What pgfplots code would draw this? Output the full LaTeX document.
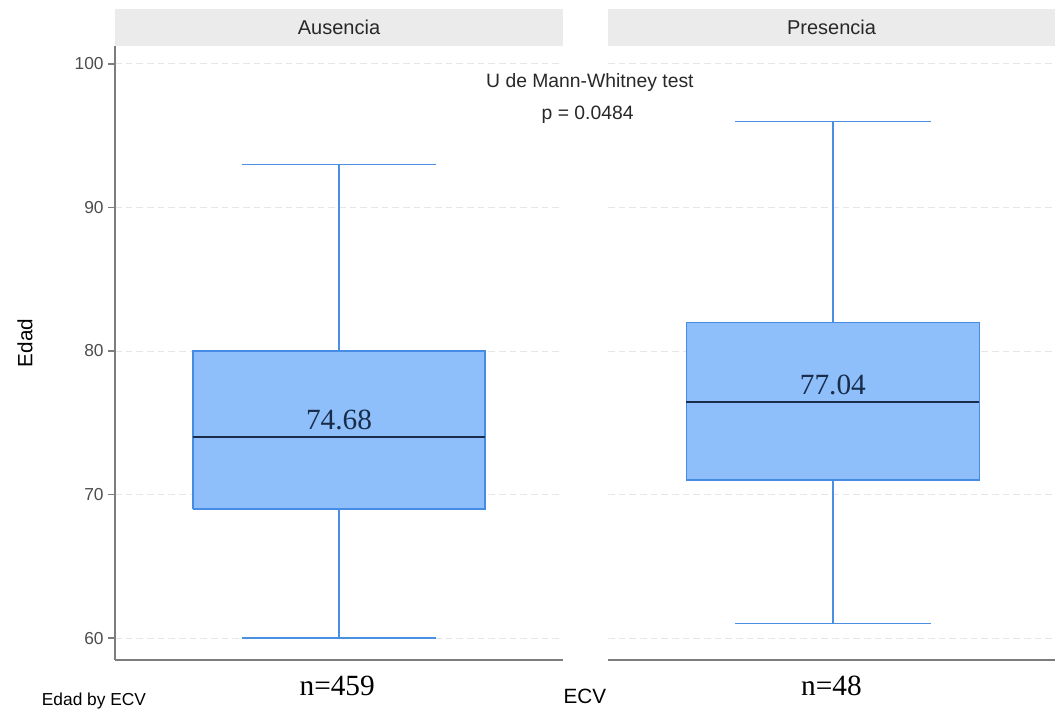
\documentclass[border=0pt]{standalone}
\usepackage{pgfplots}
\pgfplotsset{compat=1.18}
\usepackage{fontspec}
\setmainfont{Liberation Sans}
\newfontfamily\seriffont{Liberation Serif}
\definecolor{boxfill}{RGB}{142,191,250}
\definecolor{boxedge}{RGB}{70,140,230}
\definecolor{whisk}{RGB}{74,144,226}
\definecolor{medc}{RGB}{25,45,75}
\definecolor{stripc}{RGB}{235,235,235}
\definecolor{axc}{RGB}{125,125,125}
\definecolor{tickc}{RGB}{77,77,77}
\definecolor{stript}{RGB}{40,40,40}
\definecolor{gridc}{RGB}{230,230,230}
\pgfplotsset{
  panel/.style={
    scale only axis, height=460.5pt, anchor=south west,
    xmin=0, xmax=1, ymin=58.47, ymax=101.25,
    xtick=\empty, ytick={60,70,80,90,100},
    ymajorgrids, grid style={gridc, dash pattern=on 5pt off 3pt, line width=0.7pt},
    axis x line*=bottom, axis y line*=left,
    axis line style={axc, line width=1.3pt, -},
    tick align=outside, major tick length=5pt,
    ytick style={axc, line width=0.9pt},
    /pgf/number format/assume math mode=true,
    yticklabel style={font=\fontsize{13}{15}\selectfont, text=tickc},
    clip=false,
  },
  boxst/.style={fill=boxfill, draw=boxedge, line width=1.1pt},
  whst/.style={whisk, line width=1.2pt},
  medst/.style={medc, line width=1.3pt},
}
\begin{document}
\begin{tikzpicture}
\path[use as bounding box] (0,0) rectangle (791.25pt,534.75pt);
% left panel: Ausencia  (min 60, Q1 69, median 74, Q3 80, max 93)
\begin{axis}[panel, width=336pt, at={(86.25pt,39.75pt)}]
\fill[stripc] (rel axis cs:0,1) rectangle ([yshift=27.75pt]rel axis cs:1,1);
\node[text=stript, font=\fontsize{15}{18}\selectfont] at ([yshift=13.9pt]rel axis cs:0.5,1) {Ausencia};
\addplot[whst] coordinates {(0.5,60) (0.5,69)};
\addplot[whst] coordinates {(0.5,80) (0.5,93)};
\addplot[whst] coordinates {(0.2825,60) (0.7175,60)};
\addplot[whst] coordinates {(0.2825,93) (0.7175,93)};
\addplot[boxst] coordinates {(0.174,69) (0.826,69) (0.826,80) (0.174,80) (0.174,69)};
\addplot[medst] coordinates {(0.174,74) (0.826,74)};
\node[anchor=base, text=medc, font=\seriffont\fontsize{22}{26}\selectfont] at (axis cs:0.5,74.5) {74.68};
\node[anchor=base, font=\seriffont\fontsize{22}{26}\selectfont] at ([yshift=-26.25pt]rel axis cs:0.496,0) {n=459};
\node[anchor=base, text=stript, font=\fontsize{14.5}{17}\selectfont] at (axis cs:1.06,98.33) {U de Mann-Whitney test};
\node[anchor=base, text=stript, font=\fontsize{14.5}{17}\selectfont] at (axis cs:1.055,96.1) {p = 0.0484};
\node[anchor=base, font=\fontsize{15.5}{18}\selectfont] at ([yshift=-32.25pt]rel axis cs:1.049,0) {ECV};
\node[anchor=base, font=\fontsize{13}{16}\selectfont] at ([yshift=-33.75pt]rel axis cs:-0.047,0) {Edad by ECV};
\node[rotate=90, font=\fontsize{15.5}{18}\selectfont] at (axis cs:-0.2009,80.56) {Edad};
\end{axis}
% right panel: Presencia  (min 61, Q1 71, median 76.45, Q3 82, max 96)
\begin{axis}[panel, width=335.25pt, at={(456pt,39.75pt)},
  y axis line style={draw=none}, yticklabels={}, ytick style={draw=none}]
\fill[stripc] (rel axis cs:0,1) rectangle ([yshift=27.75pt]rel axis cs:1,1);
\node[text=stript, font=\fontsize{15}{18}\selectfont] at ([yshift=13.9pt]rel axis cs:0.5,1) {Presencia};
\addplot[whst] coordinates {(0.503,61) (0.503,71)};
\addplot[whst] coordinates {(0.503,82) (0.503,96)};
\addplot[whst] coordinates {(0.283,61) (0.723,61)};
\addplot[whst] coordinates {(0.283,96) (0.723,96)};
\addplot[boxst] coordinates {(0.1755,71) (0.8305,71) (0.8305,82) (0.1755,82) (0.1755,71)};
\addplot[medst] coordinates {(0.1755,76.45) (0.8305,76.45)};
\node[anchor=base, text=medc, font=\seriffont\fontsize{22}{26}\selectfont] at (axis cs:0.503,76.95) {77.04};
\node[anchor=base, font=\seriffont\fontsize{22}{26}\selectfont] at ([yshift=-26.25pt]rel axis cs:0.5,0) {n=48};
\end{axis}
\end{tikzpicture}
\end{document}
